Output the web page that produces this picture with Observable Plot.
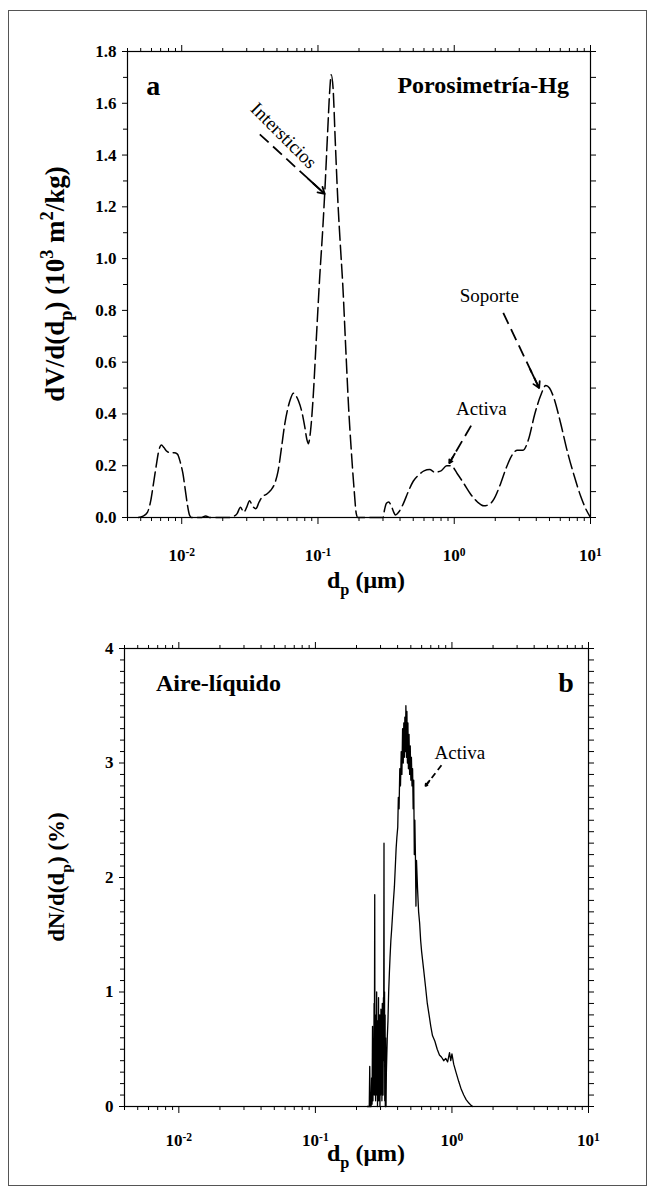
<!DOCTYPE html>
<html><head><meta charset="utf-8">
<script src="https://cdn.jsdelivr.net/npm/d3@7"></script>
<script src="https://cdn.jsdelivr.net/npm/@observablehq/plot@0.6"></script>
<style>
body{margin:0;background:#fff;}
#page{position:relative;width:655px;height:1193px;overflow:hidden;background:#fff;}
#border{position:absolute;left:8px;top:10px;width:639px;height:1176px;border:1.5px solid #555;box-sizing:border-box;}
#pa{position:absolute;left:0;top:0;}
#pb{position:absolute;left:0;top:610px;}
</style></head>
<body><div id="page"><div id="border"></div><div id="pa"></div><div id="pb"></div></div>
<script>
// ---------- Panel a: Porosimetría-Hg (dashed curve) ----------
const dpA = [0.0048,0.0052,0.0056,0.0059,0.0062,0.0065,0.0068,0.0071,0.0074,0.0078,0.0083,0.0088,0.0093,0.0098,0.0102,0.0106,0.0110,0.0114,0.0118,
  0.014,0.015,0.016,0.022,0.024,0.0255,0.027,0.0285,0.030,0.0315,0.033,0.035,0.037,0.039,0.042,0.045,0.048,0.051,0.054,0.057,0.060,0.063,0.066,0.069,0.072,0.076,0.080,0.083,0.085,0.088,
  0.0918,0.097,0.103,0.108,0.112,0.118,0.122,0.125,0.129,0.134,0.140,0.146,0.152,0.160,0.168,0.176,0.184,0.191,0.196,
  0.30,0.308,0.318,0.33,0.345,0.36,0.37,0.39,0.42,0.46,0.50,0.55,0.60,0.66,0.72,0.80,0.88,0.95,1.05,1.18,1.32,1.48,1.65,1.80,1.95,2.15,2.4,2.65,2.9,3.2,3.5,3.9,4.3,4.7,5.0,5.4,6.0,6.8,7.6,8.5,9.3,10];
const dvA = [0,0.005,0.02,0.06,0.13,0.2,0.26,0.28,0.27,0.255,0.25,0.25,0.245,0.21,0.17,0.11,0.05,0.01,0,
  0,0.006,0,0,0.004,0.015,0.04,0.02,0.04,0.065,0.045,0.034,0.06,0.08,0.09,0.105,0.13,0.18,0.27,0.36,0.42,0.46,0.48,0.47,0.45,0.41,0.35,0.30,0.285,0.33,
  0.45,0.68,0.93,1.1,1.25,1.5,1.65,1.71,1.66,1.45,1.22,1.05,0.9,0.65,0.42,0.25,0.11,0.015,0,
  0,0.03,0.055,0.06,0.045,0.02,0.01,0.02,0.05,0.1,0.14,0.165,0.18,0.185,0.175,0.18,0.2,0.2,0.17,0.13,0.09,0.06,0.045,0.05,0.07,0.12,0.19,0.24,0.26,0.26,0.3,0.4,0.47,0.51,0.5,0.46,0.37,0.25,0.16,0.08,0.03,0];

// annotation text (panel a)
const textA = ["a","Porosimetría-Hg","Intersticios","Soporte","Activa"];
const textAx = [0.0055,0.383,0.0561,1.81,1.58];
const textAy = [1.668,1.668,1.475,0.857,0.42];
// arrows (panel a): start -> tip
const arrAx1 = [0.0374,2.29,1.33];
const arrAy1 = [1.48,0.79,0.355];
const arrAx2 = [0.112,4.2,0.92];
const arrAy2 = [1.25,0.50,0.21];

// ---------- Panel b: Aire-líquido (solid noisy curve) ----------
const dpB = [0.24,0.248,0.250,0.252,0.256,0.258,0.260,0.262,0.264,0.266,0.267,0.269,0.270,0.272,0.273,0.275,0.276,0.278,0.279,0.281,0.282,0.284,0.285,0.287,0.288,0.290,0.291,0.293,0.294,0.296,0.297,0.299,0.300,0.302,0.303,0.305,0.307,0.309,0.310,0.312,0.313,0.315,0.316,0.318,0.319,0.321,0.322,0.324,0.325,0.327,0.329,
  0.331,0.336,0.340,0.344,0.348,0.352,0.357,0.362,0.368,0.373,0.379,0.385,0.390,0.395,0.401,0.405,0.410,0.415,0.420,0.425,0.430,0.435,0.440,0.444,0.448,0.452,0.456,0.460,0.464,0.468,0.472,0.476,0.480,0.485,0.490,0.495,0.500,0.505,0.510,0.515,0.520,0.525,0.530,0.535,0.540,0.545,0.550,0.560,0.570,0.580,0.590,0.600,0.620,0.640,0.660,0.680,0.700,0.720,0.750,0.780,0.810,0.840,0.870,0.900,0.930,0.960,0.980,1.000,1.030,1.070,1.120,1.170,1.220,1.270,1.330,1.380,1.420];
const dnB = [0,0,0.35,0,0,0.25,0.02,0.7,0.05,0.5,0.15,0.9,0.1,1.85,0.3,0.8,0.05,0.6,0.1,1.0,0.2,0.75,0,0.55,0.1,0.95,0.05,0.6,0.15,0.8,0,0.5,0.1,0.85,0.2,0.6,0.05,0.9,0.3,0.7,0.1,0.95,0.4,2.3,0.6,1.0,0.05,0.8,0,0.6,0,
  0.3,0.6,0.75,1.0,1.16,1.3,1.45,1.55,1.69,1.8,1.92,2.1,2.25,2.35,2.44,2.7,2.6,2.95,2.8,3.1,2.9,3.3,3.0,3.35,3.05,3.4,3.1,3.5,3.05,3.45,3.0,3.35,2.95,3.25,2.9,3.15,2.85,3.05,2.8,2.95,2.6,2.85,2.2,2.5,2.2,1.75,2.15,1.9,1.7,1.6,1.45,1.35,1.2,1.05,0.9,0.8,0.7,0.62,0.57,0.5,0.45,0.43,0.4,0.42,0.39,0.47,0.4,0.46,0.37,0.3,0.22,0.15,0.1,0.06,0.03,0.01,0];

const textB = ["Aire-líquido","b","Activa"];
const textBx = [0.0068,6.0,0.745];
const textBy = [3.7,3.7,3.09];
const arrBx1 = [0.838];
const arrBy1 = [2.98];
const arrBx2 = [0.64];
const arrBy2 = [2.80];

// axis ticks
const majorX = [0.01,0.1,1,10];
const minorX = [];
for (const d of [0.001,0.01,0.1,1]) for (let k=2;k<=9;k++){const v=+(k*d).toPrecision(2); if(v>=0.004&&v<=10) minorX.push(v);}
const supLabel = v => "10^" + Math.round(Math.log10(v));

const serif = "'Liberation Serif','Times New Roman',serif";
const SVGNS = "http://www.w3.org/2000/svg";

function supTicks(svg){
  svg.querySelectorAll('g[aria-label="x-axis tick label"] text').forEach(t=>{
    const s=t.textContent; const i=s.indexOf('^'); if(i<0) return;
    t.textContent=s.slice(0,i);
    const ts=document.createElementNS(SVGNS,'tspan');
    ts.setAttribute('dy','-0.42em'); ts.setAttribute('font-size','0.68em');
    ts.textContent=s.slice(i+1); t.appendChild(ts);
  });
}
// rich text helper: parts = [[text, mode]] mode: "", "sub", "sup"
function richText(svg, parts, x, y, rot, size){
  const t=document.createElementNS(SVGNS,'text');
  t.setAttribute('transform',`translate(${x},${y}) rotate(${rot})`);
  t.setAttribute('text-anchor','middle');
  t.setAttribute('font-family',serif); t.setAttribute('font-weight','bold');
  t.setAttribute('font-size',size); t.setAttribute('fill','black');
  let shift=0; // in px
  for(const [s,m] of parts){
    const ts=document.createElementNS(SVGNS,'tspan');
    const target = m==="sub"?0.3*size:m==="sup"?-0.42*size:0;
    ts.setAttribute('dy',(target-shift)+'px');
    if(m) ts.setAttribute('font-size',(size*0.68)+'px');
    shift=target;
    ts.textContent=s; t.appendChild(ts);
  }
  svg.appendChild(t);
}

function axesMarks(yMajor, yMinor, yFmt, tickPad){
  return [
    Plot.axisX({anchor:"bottom", ticks:majorX, tickSize:7, tickPadding:tickPad, tickFormat:supLabel, label:null, fontSize:17, fontWeight:"bold"}),
    Plot.axisX({anchor:"bottom", ticks:minorX, tickSize:4, tickFormat:()=>"", label:null}),
    Plot.axisX({anchor:"top", ticks:majorX, tickSize:7, tickFormat:()=>"", label:null}),
    Plot.axisX({anchor:"top", ticks:minorX, tickSize:4, tickFormat:()=>"", label:null}),
    Plot.axisY({anchor:"left", ticks:yMajor, tickSize:5, tickPadding:6, tickFormat:yFmt, label:null, fontSize:17, fontWeight:"bold"}),
    Plot.axisY({anchor:"left", ticks:yMinor, tickSize:4, tickFormat:()=>"", label:null}),
    Plot.axisY({anchor:"right", ticks:yMajor.concat(yMinor), tickSize:5, tickFormat:()=>"", label:null}),
    Plot.frame({stroke:"black", strokeWidth:1.2})
  ];
}

// ---- Panel a ----
const dataA = dpA.map((d,i)=>({dp:d, v:dvA[i]}));
const annA = textA.map((t,i)=>({t, x:textAx[i], y:textAy[i]}));
const arrA = arrAx1.map((d,i)=>({x1:d,y1:arrAy1[i],x2:arrAx2[i],y2:arrAy2[i]}));
const headFrac = 0.25;
const head = a => ({x1: Math.pow(10, Math.log10(a.x2) - headFrac*(Math.log10(a.x2)-Math.log10(a.x1))), y1: a.y2 - headFrac*(a.y2-a.y1), x2:a.x2, y2:a.y2});

const plotA = Plot.plot({
  width:655, height:610,
  marginTop:51, marginBottom:93, marginLeft:127, marginRight:65,
  style:{fontFamily:serif, fontSize:"17px", fontWeight:"bold", color:"black", background:"transparent"},
  x:{type:"log", domain:[0.004,10]},
  y:{domain:[0,1.8]},
  marks:[
    ...axesMarks([0,0.2,0.4,0.6,0.8,1.0,1.2,1.4,1.6,1.8],[0.1,0.3,0.5,0.7,0.9,1.1,1.3,1.5,1.7], d3.format(".1f"), 24),
    Plot.line(dataA,{x:"dp", y:"v", stroke:"black", strokeWidth:1.5, strokeDasharray:"14,5", curve:"monotone-x"}),
    Plot.link(arrA,{x1:"x1",y1:"y1",x2:"x2",y2:"y2", stroke:"black", strokeWidth:1.8, strokeDasharray:"12,6"}),
    Plot.arrow(arrA.map(head),{x1:"x1",y1:"y1",x2:"x2",y2:"y2", stroke:"black", strokeWidth:1.8, headLength:12}),
    Plot.text(annA.filter(d=>d.t==="a"),{x:"x",y:"y",text:"t", textAnchor:"start", fontSize:28, fontWeight:"bold"}),
    Plot.text(annA.filter(d=>d.t==="Porosimetría-Hg"),{x:"x",y:"y",text:"t", textAnchor:"start", fontSize:24, fontWeight:"bold"}),
    Plot.text(annA.filter(d=>d.t==="Intersticios"),{x:"x",y:"y",text:"t", rotate:45, fontSize:19, fontWeight:"normal"}),
    Plot.text(annA.filter(d=>d.t==="Soporte"||d.t==="Activa"),{x:"x",y:"y",text:"t", fontSize:19, fontWeight:"normal"})
  ]
});
supTicks(plotA);
richText(plotA, [["dV/d(d",""],["p","sub"],[") (10",""],["3","sup"],[" m",""],["2","sup"],["/kg)",""]], 64, 284, -90, 27);
richText(plotA, [["d",""],["p","sub"],[" (μm)",""]], 366, 588, 0, 24);
document.getElementById("pa").appendChild(plotA);

// ---- Panel b ----
const dataB = dpB.map((d,i)=>({dp:d, v:dnB[i]}));
const annB = textB.map((t,i)=>({t, x:textBx[i], y:textBy[i]}));
const arrB = arrBx1.map((d,i)=>({x1:d,y1:arrBy1[i],x2:arrBx2[i],y2:arrBy2[i]}));
const yMinorB = d3.range(1,40).filter(i=>i%10!==0).map(i=>i/10);
const plotB = Plot.plot({
  width:655, height:583,
  marginTop:38, marginBottom:87, marginLeft:124, marginRight:67,
  style:{fontFamily:serif, fontSize:"17px", fontWeight:"bold", color:"black", background:"transparent"},
  x:{type:"log", domain:[0.004,10]},
  y:{domain:[0,4]},
  marks:[
    ...axesMarks([0,1,2,3,4], yMinorB, d3.format("d"), 20),
    Plot.line(dataB,{x:"dp", y:"v", stroke:"black", strokeWidth:1.3}),
    Plot.link(arrB,{x1:"x1",y1:"y1",x2:"x2",y2:"y2", stroke:"black", strokeWidth:1.8, strokeDasharray:"6,4"}),
    Plot.arrow(arrB.map(head),{x1:"x1",y1:"y1",x2:"x2",y2:"y2", stroke:"black", strokeWidth:1.8, headLength:10}),
    Plot.text(annB.filter(d=>d.t==="Aire-líquido"),{x:"x",y:"y",text:"t", textAnchor:"start", fontSize:24, fontWeight:"bold"}),
    Plot.text(annB.filter(d=>d.t==="b"),{x:"x",y:"y",text:"t", textAnchor:"start", fontSize:28, fontWeight:"bold"}),
    Plot.text(annB.filter(d=>d.t==="Activa"),{x:"x",y:"y",text:"t", textAnchor:"start", fontSize:19, fontWeight:"normal"})
  ]
});
supTicks(plotB);
richText(plotB, [["dN/d(d",""],["p","sub"],[") (%)",""]], 64, 267, -90, 23);
richText(plotB, [["d",""],["p","sub"],[" (μm)",""]], 366, 551, 0, 24);
document.getElementById("pb").appendChild(plotB);
</script>
</body></html>
